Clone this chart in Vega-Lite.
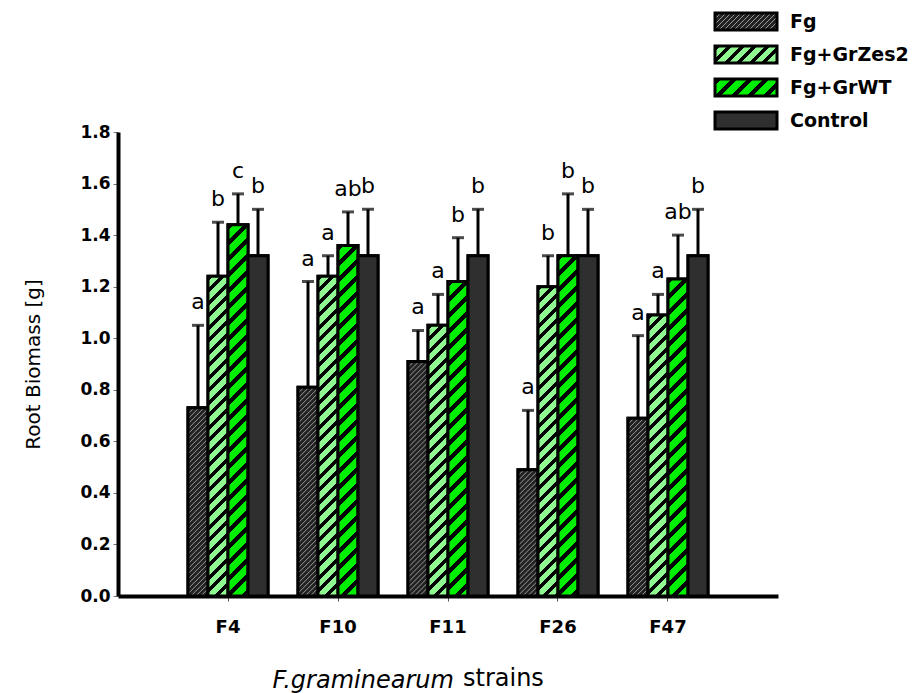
{
  "$schema": "https://vega.github.io/schema/vega-lite/v6.json",
  "width": 660,
  "height": 464,
  "autosize": {"type": "none"},
  "padding": {"left": 118, "top": 132, "right": 137, "bottom": 97},
  "background": "white",
  "title": {
    "text": "strains",
    "orient": "bottom",
    "anchor": "start",
    "frame": "group",
    "dx": 345,
    "offset": -25,
    "font": "DejaVu Sans",
    "fontSize": 24,
    "fontWeight": "normal",
    "color": "black"
  },
  "params": [
    {"name": "fgStops", "value": [
      {"offset":0,"color":"#222"},{"offset":0.004,"color":"#999"},{"offset":0.008,"color":"#222"},
      {"offset":0.02,"color":"#222"},{"offset":0.024,"color":"#999"},{"offset":0.028,"color":"#222"},
      {"offset":0.04,"color":"#222"},{"offset":0.044,"color":"#999"},{"offset":0.048,"color":"#222"},
      {"offset":0.06,"color":"#222"},{"offset":0.064,"color":"#999"},{"offset":0.068,"color":"#222"},
      {"offset":0.08,"color":"#222"},{"offset":0.084,"color":"#999"},{"offset":0.088,"color":"#222"},
      {"offset":0.1,"color":"#222"},{"offset":0.104,"color":"#999"},{"offset":0.108,"color":"#222"},
      {"offset":0.12,"color":"#222"},{"offset":0.124,"color":"#999"},{"offset":0.128,"color":"#222"},
      {"offset":0.14,"color":"#222"},{"offset":0.144,"color":"#999"},{"offset":0.148,"color":"#222"},
      {"offset":0.16,"color":"#222"},{"offset":0.164,"color":"#999"},{"offset":0.168,"color":"#222"},
      {"offset":0.18,"color":"#222"},{"offset":0.184,"color":"#999"},{"offset":0.188,"color":"#222"},
      {"offset":0.2,"color":"#222"},{"offset":0.204,"color":"#999"},{"offset":0.208,"color":"#222"},
      {"offset":0.22,"color":"#222"},{"offset":0.224,"color":"#999"},{"offset":0.228,"color":"#222"},
      {"offset":0.24,"color":"#222"},{"offset":0.244,"color":"#999"},{"offset":0.248,"color":"#222"},
      {"offset":0.26,"color":"#222"},{"offset":0.264,"color":"#999"},{"offset":0.268,"color":"#222"},
      {"offset":0.28,"color":"#222"},{"offset":0.284,"color":"#999"},{"offset":0.288,"color":"#222"},
      {"offset":0.3,"color":"#222"},{"offset":0.304,"color":"#999"},{"offset":0.308,"color":"#222"},
      {"offset":0.32,"color":"#222"},{"offset":0.324,"color":"#999"},{"offset":0.328,"color":"#222"},
      {"offset":0.34,"color":"#222"},{"offset":0.344,"color":"#999"},{"offset":0.348,"color":"#222"},
      {"offset":0.36,"color":"#222"},{"offset":0.364,"color":"#999"},{"offset":0.368,"color":"#222"},
      {"offset":0.38,"color":"#222"},{"offset":0.384,"color":"#999"},{"offset":0.388,"color":"#222"},
      {"offset":0.4,"color":"#222"},{"offset":0.404,"color":"#999"},{"offset":0.408,"color":"#222"},
      {"offset":0.42,"color":"#222"},{"offset":0.424,"color":"#999"},{"offset":0.428,"color":"#222"},
      {"offset":0.44,"color":"#222"},{"offset":0.444,"color":"#999"},{"offset":0.448,"color":"#222"},
      {"offset":0.46,"color":"#222"},{"offset":0.464,"color":"#999"},{"offset":0.468,"color":"#222"},
      {"offset":0.48,"color":"#222"},{"offset":0.484,"color":"#999"},{"offset":0.488,"color":"#222"},
      {"offset":0.5,"color":"#222"},{"offset":0.504,"color":"#999"},{"offset":0.508,"color":"#222"},
      {"offset":0.52,"color":"#222"},{"offset":0.524,"color":"#999"},{"offset":0.528,"color":"#222"},
      {"offset":0.54,"color":"#222"},{"offset":0.544,"color":"#999"},{"offset":0.548,"color":"#222"},
      {"offset":0.56,"color":"#222"},{"offset":0.564,"color":"#999"},{"offset":0.568,"color":"#222"},
      {"offset":0.58,"color":"#222"},{"offset":0.584,"color":"#999"},{"offset":0.588,"color":"#222"},
      {"offset":0.6,"color":"#222"},{"offset":0.604,"color":"#999"},{"offset":0.608,"color":"#222"},
      {"offset":0.62,"color":"#222"},{"offset":0.624,"color":"#999"},{"offset":0.628,"color":"#222"},
      {"offset":0.64,"color":"#222"},{"offset":0.644,"color":"#999"},{"offset":0.648,"color":"#222"},
      {"offset":0.66,"color":"#222"},{"offset":0.664,"color":"#999"},{"offset":0.668,"color":"#222"},
      {"offset":0.68,"color":"#222"},{"offset":0.684,"color":"#999"},{"offset":0.688,"color":"#222"},
      {"offset":0.7,"color":"#222"},{"offset":0.704,"color":"#999"},{"offset":0.708,"color":"#222"},
      {"offset":0.72,"color":"#222"},{"offset":0.724,"color":"#999"},{"offset":0.728,"color":"#222"},
      {"offset":0.74,"color":"#222"},{"offset":0.744,"color":"#999"},{"offset":0.748,"color":"#222"},
      {"offset":0.76,"color":"#222"},{"offset":0.764,"color":"#999"},{"offset":0.768,"color":"#222"},
      {"offset":0.78,"color":"#222"},{"offset":0.784,"color":"#999"},{"offset":0.788,"color":"#222"},
      {"offset":0.8,"color":"#222"},{"offset":0.804,"color":"#999"},{"offset":0.808,"color":"#222"},
      {"offset":0.82,"color":"#222"},{"offset":0.824,"color":"#999"},{"offset":0.828,"color":"#222"},
      {"offset":0.84,"color":"#222"},{"offset":0.844,"color":"#999"},{"offset":0.848,"color":"#222"},
      {"offset":0.86,"color":"#222"},{"offset":0.864,"color":"#999"},{"offset":0.868,"color":"#222"},
      {"offset":0.88,"color":"#222"},{"offset":0.884,"color":"#999"},{"offset":0.888,"color":"#222"},
      {"offset":0.9,"color":"#222"},{"offset":0.904,"color":"#999"},{"offset":0.908,"color":"#222"},
      {"offset":0.92,"color":"#222"},{"offset":0.924,"color":"#999"},{"offset":0.928,"color":"#222"},
      {"offset":0.94,"color":"#222"},{"offset":0.944,"color":"#999"},{"offset":0.948,"color":"#222"},
      {"offset":0.96,"color":"#222"},{"offset":0.964,"color":"#999"},{"offset":0.968,"color":"#222"},
      {"offset":0.98,"color":"#222"},{"offset":0.984,"color":"#999"},{"offset":0.988,"color":"#222"},
      {"offset":1,"color":"#222"}
    ]},
    {"name": "zesStops", "value": [
      {"offset":0,"color":"#000"},{"offset":0.0125,"color":"#000"},{"offset":0.0125,"color":"#90f890"},{"offset":0.03125,"color":"#90f890"},
      {"offset":0.03125,"color":"#000"},{"offset":0.04375,"color":"#000"},{"offset":0.04375,"color":"#90f890"},{"offset":0.0625,"color":"#90f890"},
      {"offset":0.0625,"color":"#000"},{"offset":0.075,"color":"#000"},{"offset":0.075,"color":"#90f890"},{"offset":0.09375,"color":"#90f890"},
      {"offset":0.09375,"color":"#000"},{"offset":0.10625,"color":"#000"},{"offset":0.10625,"color":"#90f890"},{"offset":0.125,"color":"#90f890"},
      {"offset":0.125,"color":"#000"},{"offset":0.1375,"color":"#000"},{"offset":0.1375,"color":"#90f890"},{"offset":0.15625,"color":"#90f890"},
      {"offset":0.15625,"color":"#000"},{"offset":0.16875,"color":"#000"},{"offset":0.16875,"color":"#90f890"},{"offset":0.1875,"color":"#90f890"},
      {"offset":0.1875,"color":"#000"},{"offset":0.2,"color":"#000"},{"offset":0.2,"color":"#90f890"},{"offset":0.21875,"color":"#90f890"},
      {"offset":0.21875,"color":"#000"},{"offset":0.23125,"color":"#000"},{"offset":0.23125,"color":"#90f890"},{"offset":0.25,"color":"#90f890"},
      {"offset":0.25,"color":"#000"},{"offset":0.2625,"color":"#000"},{"offset":0.2625,"color":"#90f890"},{"offset":0.28125,"color":"#90f890"},
      {"offset":0.28125,"color":"#000"},{"offset":0.29375,"color":"#000"},{"offset":0.29375,"color":"#90f890"},{"offset":0.3125,"color":"#90f890"},
      {"offset":0.3125,"color":"#000"},{"offset":0.325,"color":"#000"},{"offset":0.325,"color":"#90f890"},{"offset":0.34375,"color":"#90f890"},
      {"offset":0.34375,"color":"#000"},{"offset":0.35625,"color":"#000"},{"offset":0.35625,"color":"#90f890"},{"offset":0.375,"color":"#90f890"},
      {"offset":0.375,"color":"#000"},{"offset":0.3875,"color":"#000"},{"offset":0.3875,"color":"#90f890"},{"offset":0.40625,"color":"#90f890"},
      {"offset":0.40625,"color":"#000"},{"offset":0.41875,"color":"#000"},{"offset":0.41875,"color":"#90f890"},{"offset":0.4375,"color":"#90f890"},
      {"offset":0.4375,"color":"#000"},{"offset":0.45,"color":"#000"},{"offset":0.45,"color":"#90f890"},{"offset":0.46875,"color":"#90f890"},
      {"offset":0.46875,"color":"#000"},{"offset":0.48125,"color":"#000"},{"offset":0.48125,"color":"#90f890"},{"offset":0.5,"color":"#90f890"},
      {"offset":0.5,"color":"#000"},{"offset":0.5125,"color":"#000"},{"offset":0.5125,"color":"#90f890"},{"offset":0.53125,"color":"#90f890"},
      {"offset":0.53125,"color":"#000"},{"offset":0.54375,"color":"#000"},{"offset":0.54375,"color":"#90f890"},{"offset":0.5625,"color":"#90f890"},
      {"offset":0.5625,"color":"#000"},{"offset":0.575,"color":"#000"},{"offset":0.575,"color":"#90f890"},{"offset":0.59375,"color":"#90f890"},
      {"offset":0.59375,"color":"#000"},{"offset":0.60625,"color":"#000"},{"offset":0.60625,"color":"#90f890"},{"offset":0.625,"color":"#90f890"},
      {"offset":0.625,"color":"#000"},{"offset":0.6375,"color":"#000"},{"offset":0.6375,"color":"#90f890"},{"offset":0.65625,"color":"#90f890"},
      {"offset":0.65625,"color":"#000"},{"offset":0.66875,"color":"#000"},{"offset":0.66875,"color":"#90f890"},{"offset":0.6875,"color":"#90f890"},
      {"offset":0.6875,"color":"#000"},{"offset":0.7,"color":"#000"},{"offset":0.7,"color":"#90f890"},{"offset":0.71875,"color":"#90f890"},
      {"offset":0.71875,"color":"#000"},{"offset":0.73125,"color":"#000"},{"offset":0.73125,"color":"#90f890"},{"offset":0.75,"color":"#90f890"},
      {"offset":0.75,"color":"#000"},{"offset":0.7625,"color":"#000"},{"offset":0.7625,"color":"#90f890"},{"offset":0.78125,"color":"#90f890"},
      {"offset":0.78125,"color":"#000"},{"offset":0.79375,"color":"#000"},{"offset":0.79375,"color":"#90f890"},{"offset":0.8125,"color":"#90f890"},
      {"offset":0.8125,"color":"#000"},{"offset":0.825,"color":"#000"},{"offset":0.825,"color":"#90f890"},{"offset":0.84375,"color":"#90f890"},
      {"offset":0.84375,"color":"#000"},{"offset":0.85625,"color":"#000"},{"offset":0.85625,"color":"#90f890"},{"offset":0.875,"color":"#90f890"},
      {"offset":0.875,"color":"#000"},{"offset":0.8875,"color":"#000"},{"offset":0.8875,"color":"#90f890"},{"offset":0.90625,"color":"#90f890"},
      {"offset":0.90625,"color":"#000"},{"offset":0.91875,"color":"#000"},{"offset":0.91875,"color":"#90f890"},{"offset":0.9375,"color":"#90f890"},
      {"offset":0.9375,"color":"#000"},{"offset":0.95,"color":"#000"},{"offset":0.95,"color":"#90f890"},{"offset":0.96875,"color":"#90f890"},
      {"offset":0.96875,"color":"#000"},{"offset":0.98125,"color":"#000"},{"offset":0.98125,"color":"#90f890"},{"offset":1,"color":"#90f890"}
    ]},
    {"name": "wtStops", "value": [
      {"offset":0,"color":"#000"},{"offset":0.015,"color":"#000"},{"offset":0.015,"color":"#00ee00"},{"offset":0.04,"color":"#00ee00"},
      {"offset":0.04,"color":"#000"},{"offset":0.055,"color":"#000"},{"offset":0.055,"color":"#00ee00"},{"offset":0.08,"color":"#00ee00"},
      {"offset":0.08,"color":"#000"},{"offset":0.095,"color":"#000"},{"offset":0.095,"color":"#00ee00"},{"offset":0.12,"color":"#00ee00"},
      {"offset":0.12,"color":"#000"},{"offset":0.135,"color":"#000"},{"offset":0.135,"color":"#00ee00"},{"offset":0.16,"color":"#00ee00"},
      {"offset":0.16,"color":"#000"},{"offset":0.175,"color":"#000"},{"offset":0.175,"color":"#00ee00"},{"offset":0.2,"color":"#00ee00"},
      {"offset":0.2,"color":"#000"},{"offset":0.215,"color":"#000"},{"offset":0.215,"color":"#00ee00"},{"offset":0.24,"color":"#00ee00"},
      {"offset":0.24,"color":"#000"},{"offset":0.255,"color":"#000"},{"offset":0.255,"color":"#00ee00"},{"offset":0.28,"color":"#00ee00"},
      {"offset":0.28,"color":"#000"},{"offset":0.295,"color":"#000"},{"offset":0.295,"color":"#00ee00"},{"offset":0.32,"color":"#00ee00"},
      {"offset":0.32,"color":"#000"},{"offset":0.335,"color":"#000"},{"offset":0.335,"color":"#00ee00"},{"offset":0.36,"color":"#00ee00"},
      {"offset":0.36,"color":"#000"},{"offset":0.375,"color":"#000"},{"offset":0.375,"color":"#00ee00"},{"offset":0.4,"color":"#00ee00"},
      {"offset":0.4,"color":"#000"},{"offset":0.415,"color":"#000"},{"offset":0.415,"color":"#00ee00"},{"offset":0.44,"color":"#00ee00"},
      {"offset":0.44,"color":"#000"},{"offset":0.455,"color":"#000"},{"offset":0.455,"color":"#00ee00"},{"offset":0.48,"color":"#00ee00"},
      {"offset":0.48,"color":"#000"},{"offset":0.495,"color":"#000"},{"offset":0.495,"color":"#00ee00"},{"offset":0.52,"color":"#00ee00"},
      {"offset":0.52,"color":"#000"},{"offset":0.535,"color":"#000"},{"offset":0.535,"color":"#00ee00"},{"offset":0.56,"color":"#00ee00"},
      {"offset":0.56,"color":"#000"},{"offset":0.575,"color":"#000"},{"offset":0.575,"color":"#00ee00"},{"offset":0.6,"color":"#00ee00"},
      {"offset":0.6,"color":"#000"},{"offset":0.615,"color":"#000"},{"offset":0.615,"color":"#00ee00"},{"offset":0.64,"color":"#00ee00"},
      {"offset":0.64,"color":"#000"},{"offset":0.655,"color":"#000"},{"offset":0.655,"color":"#00ee00"},{"offset":0.68,"color":"#00ee00"},
      {"offset":0.68,"color":"#000"},{"offset":0.695,"color":"#000"},{"offset":0.695,"color":"#00ee00"},{"offset":0.72,"color":"#00ee00"},
      {"offset":0.72,"color":"#000"},{"offset":0.735,"color":"#000"},{"offset":0.735,"color":"#00ee00"},{"offset":0.76,"color":"#00ee00"},
      {"offset":0.76,"color":"#000"},{"offset":0.775,"color":"#000"},{"offset":0.775,"color":"#00ee00"},{"offset":0.8,"color":"#00ee00"},
      {"offset":0.8,"color":"#000"},{"offset":0.815,"color":"#000"},{"offset":0.815,"color":"#00ee00"},{"offset":0.84,"color":"#00ee00"},
      {"offset":0.84,"color":"#000"},{"offset":0.855,"color":"#000"},{"offset":0.855,"color":"#00ee00"},{"offset":0.88,"color":"#00ee00"},
      {"offset":0.88,"color":"#000"},{"offset":0.895,"color":"#000"},{"offset":0.895,"color":"#00ee00"},{"offset":0.92,"color":"#00ee00"},
      {"offset":0.92,"color":"#000"},{"offset":0.935,"color":"#000"},{"offset":0.935,"color":"#00ee00"},{"offset":0.96,"color":"#00ee00"},
      {"offset":0.96,"color":"#000"},{"offset":0.975,"color":"#000"},{"offset":0.975,"color":"#00ee00"},{"offset":1,"color":"#00ee00"}
    ]}
  ],
  "data": {
    "values": [
      {"strain": "F4", "treatment": "Fg", "mean": 0.73, "hi": 1.05, "sig": "a"},
      {"strain": "F4", "treatment": "Fg+GrZes2", "mean": 1.24, "hi": 1.45, "sig": "b"},
      {"strain": "F4", "treatment": "Fg+GrWT", "mean": 1.44, "hi": 1.56, "sig": "c"},
      {"strain": "F4", "treatment": "Control", "mean": 1.32, "hi": 1.5, "sig": "b"},
      {"strain": "F10", "treatment": "Fg", "mean": 0.81, "hi": 1.22, "sig": "a"},
      {"strain": "F10", "treatment": "Fg+GrZes2", "mean": 1.24, "hi": 1.32, "sig": "a"},
      {"strain": "F10", "treatment": "Fg+GrWT", "mean": 1.36, "hi": 1.49, "sig": "ab"},
      {"strain": "F10", "treatment": "Control", "mean": 1.32, "hi": 1.5, "sig": "b"},
      {"strain": "F11", "treatment": "Fg", "mean": 0.91, "hi": 1.03, "sig": "a"},
      {"strain": "F11", "treatment": "Fg+GrZes2", "mean": 1.05, "hi": 1.17, "sig": "a"},
      {"strain": "F11", "treatment": "Fg+GrWT", "mean": 1.22, "hi": 1.39, "sig": "b"},
      {"strain": "F11", "treatment": "Control", "mean": 1.32, "hi": 1.5, "sig": "b"},
      {"strain": "F26", "treatment": "Fg", "mean": 0.49, "hi": 0.72, "sig": "a"},
      {"strain": "F26", "treatment": "Fg+GrZes2", "mean": 1.2, "hi": 1.32, "sig": "b"},
      {"strain": "F26", "treatment": "Fg+GrWT", "mean": 1.32, "hi": 1.56, "sig": "b"},
      {"strain": "F26", "treatment": "Control", "mean": 1.32, "hi": 1.5, "sig": "b"},
      {"strain": "F47", "treatment": "Fg", "mean": 0.69, "hi": 1.01, "sig": "a"},
      {"strain": "F47", "treatment": "Fg+GrZes2", "mean": 1.09, "hi": 1.17, "sig": "a"},
      {"strain": "F47", "treatment": "Fg+GrWT", "mean": 1.23, "hi": 1.4, "sig": "ab"},
      {"strain": "F47", "treatment": "Control", "mean": 1.32, "hi": 1.5, "sig": "b"}
    ]
  },
  "encoding": {
    "x": {
      "field": "strain",
      "type": "nominal",
      "sort": ["F4", "F10", "F11", "F26", "F47"],
      "scale": {"paddingInner": 0.2727, "paddingOuter": 0.6364},
      "axis": {
        "title": "F.graminearum",
        "labelAngle": 0,
        "labelFont": "DejaVu Sans",
        "labelFontSize": 18,
        "labelFontWeight": "bold",
        "labelColor": "black",
        "labelPadding": 17,
        "tickSize": 5,
        "tickWidth": 1,
        "tickColor": "#555",
        "domainColor": "black",
        "domainWidth": 4,
        "titleFont": "DejaVu Sans",
        "titleFontSize": 24,
        "titleFontWeight": "normal",
        "titleFontStyle": "italic",
        "titleColor": "black",
        "titleAnchor": "start",
        "titleAlign": "left",
        "titleBaseline": "alphabetic",
        "titleX": 154,
        "titleY": 91
      }
    },
    "xOffset": {
      "field": "treatment",
      "type": "nominal",
      "sort": ["Fg", "Fg+GrZes2", "Fg+GrWT", "Control"],
      "scale": {"paddingInner": 0, "paddingOuter": 0}
    },
    "y": {
      "field": "mean",
      "type": "quantitative",
      "title": "Root Biomass [g]",
      "scale": {"domain": [0, 1.8], "nice": false},
      "axis": {
        "values": [0, 0.2, 0.4, 0.6, 0.8, 1.0, 1.2, 1.4, 1.6, 1.8],
        "format": ".1f",
        "grid": false,
        "labelFont": "DejaVu Sans",
        "labelFontSize": 17,
        "labelFontWeight": "bold",
        "labelColor": "black",
        "labelPadding": 3,
        "tickSize": 5,
        "tickWidth": 1,
        "tickColor": "#777",
        "domainColor": "black",
        "domainWidth": 4,
        "titleFont": "DejaVu Sans",
        "titleFontSize": 20,
        "titleFontWeight": "normal",
        "titleColor": "black",
        "titlePadding": 36
      }
    }
  },
  "layer": [
    {
      "mark": {"type": "bar", "strokeWidth": 3},
      "encoding": {
        "fill": {
          "field": "treatment",
          "type": "nominal",
          "scale": {
            "domain": ["Fg", "Fg+GrZes2", "Fg+GrWT", "Control"],
            "range": [
              {"expr": "{gradient: 'linear', x1: 0, y1: 0, x2: 3.7503, y2: 1.0283, stops: fgStops}"},
              {"expr": "{gradient: 'linear', x1: 0, y1: 0, x2: 6.0005, y2: 1.6453, stops: zesStops}"},
              {"expr": "{gradient: 'linear', x1: 0, y1: 0, x2: 6.0005, y2: 1.6453, stops: wtStops}"},
              "#2f2f2f"
            ]
          },
          "legend": {
            "title": null,
            "orient": "none",
            "legendX": 616.5,
            "legendY": -122,
            "direction": "vertical",
            "padding": 0,
            "symbolType": "M-3.1,-0.85H3.1V0.85H-3.1Z",
            "symbolSize": 400,
            "symbolStrokeColor": "black",
            "symbolStrokeWidth": 3,
            "symbolOpacity": 1,
            "labelFont": "DejaVu Sans",
            "labelFontSize": 19,
            "labelFontWeight": "bold",
            "labelColor": "black",
            "labelOffset": 32.5,
            "rowPadding": 4
          }
        },
        "stroke": {
          "field": "treatment",
          "type": "nominal",
          "scale": {
            "domain": ["Fg", "Fg+GrZes2", "Fg+GrWT", "Control"],
            "range": ["black", "black", "black", "black"]
          },
          "legend": {
            "title": null,
            "orient": "none",
            "legendX": 616.5,
            "legendY": -122,
            "direction": "vertical",
            "padding": 0,
            "symbolType": "M-3.1,-0.85H3.1V0.85H-3.1Z",
            "symbolSize": 400,
            "symbolStrokeWidth": 3,
            "symbolOpacity": 1,
            "labelFont": "DejaVu Sans",
            "labelFontSize": 19,
            "labelFontWeight": "bold",
            "labelColor": "black",
            "labelOffset": 32.5,
            "rowPadding": 4
          }
        }
      }
    },
    {
      "mark": {
        "type": "bar",
        "stroke": "black",
        "strokeWidth": 3,
        "fill": {"expr": "datum.treatment === 'Control' ? '#2f2f2f' : {gradient: 'linear', x1: 0, y1: 0, x2: 20 * (datum.treatment === 'Fg' ? 250 : 400) / (400 + pow(datum.mean * 257.78, 2)), y2: datum.mean * 257.78 * (datum.treatment === 'Fg' ? 250 : 400) / (400 + pow(datum.mean * 257.78, 2)), stops: datum.treatment === 'Fg' ? fgStops : (datum.treatment === 'Fg+GrZes2' ? zesStops : wtStops)}"}
      }
    },
    {
      "mark": {"type": "rule", "color": "black", "strokeWidth": 3},
      "encoding": {
        "y2": {"field": "hi"}
      }
    },
    {
      "mark": {"type": "tick", "color": "black", "orient": "horizontal", "size": 12, "thickness": 3},
      "encoding": {
        "y": {"field": "hi", "type": "quantitative", "title": "Root Biomass [g]"}
      }
    },
    {
      "mark": {"type": "text", "font": "DejaVu Sans", "fontSize": 22, "color": "black", "align": "center", "baseline": "alphabetic", "dy": -16},
      "encoding": {
        "y": {"field": "hi", "type": "quantitative", "title": "Root Biomass [g]"},
        "text": {"field": "sig"}
      }
    }
  ],
  "config": {
    "view": {"stroke": null}
  }
}
